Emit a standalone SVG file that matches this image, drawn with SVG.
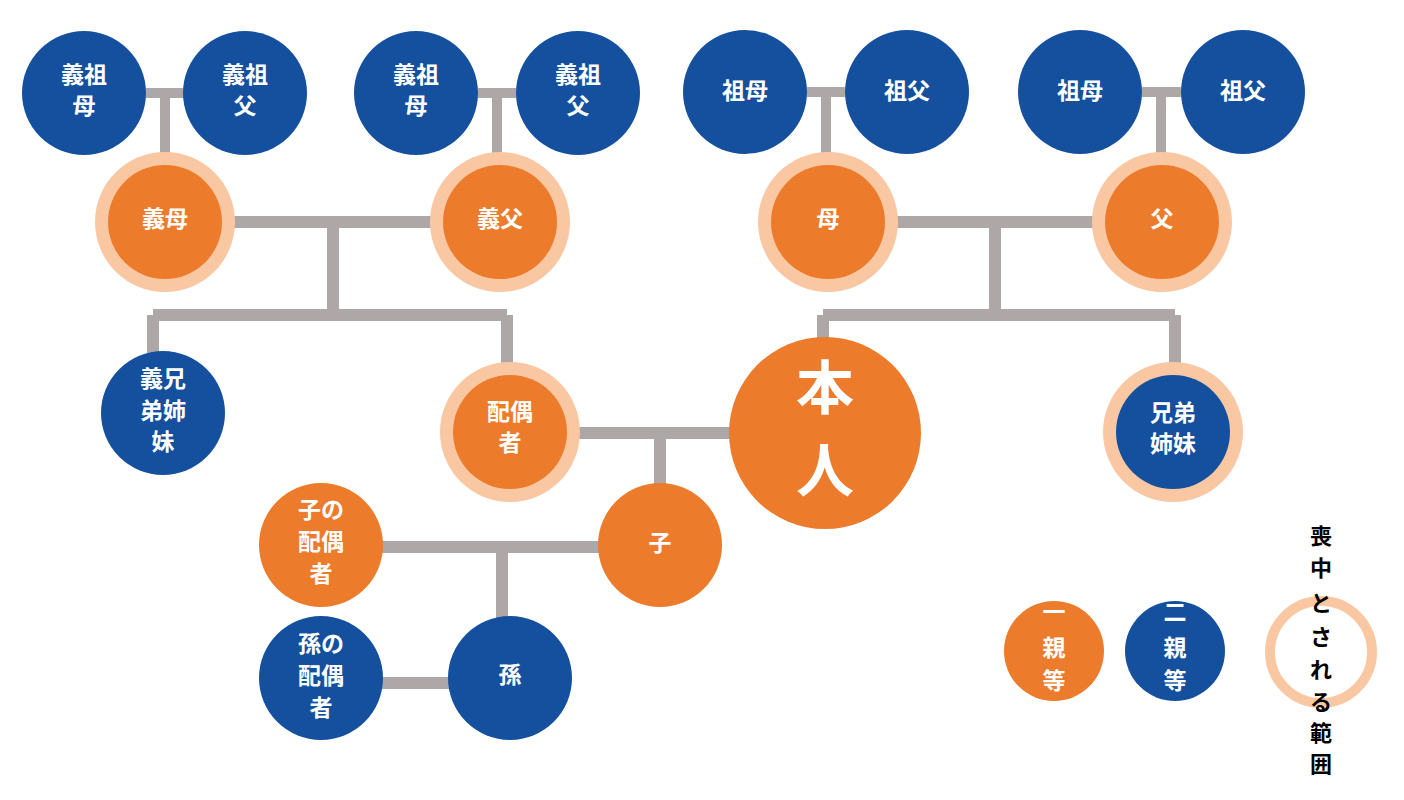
<svg xmlns="http://www.w3.org/2000/svg" width="1404" height="800" viewBox="0 0 1404 800">
<style>
.blue{fill:#14509E}
.orange{fill:#EC7B2C}
.peach{fill:#F9C8A3}
.t{font-family:"Noto Sans CJK JP","Noto Sans",sans-serif;font-weight:700;fill:#fff;font-size:23px;text-anchor:middle;dominant-baseline:central}
.big{font-size:58px}
.lt{font-family:"Noto Sans CJK JP","Noto Sans",sans-serif;font-weight:700;fill:#000;font-size:22px;text-anchor:middle;dominant-baseline:central}
.c{stroke:#ADA7A7;stroke-width:12;fill:none}
.cs{stroke:#ADA7A7;stroke-width:10;fill:none}
</style>
<rect width="1404" height="800" fill="#fff"/>
<g id="connectors">
<path class="cs" d="M146 93H184M165 93V160"/>
<path class="cs" d="M478 93H516M497 93V160"/>
<path class="cs" d="M807 92H845M826 92V160"/>
<path class="cs" d="M1142 92H1181M1161 92V160"/>
<path class="c" d="M230 222H435M333 222V315M153 315H507M153 315V355M507 315V368"/>
<path class="c" d="M893 222H1097M995 222V315M823 315H1175M823 315V345M1175 315V368"/>
<path class="c" d="M575 433H735M660 433V490"/>
<path class="c" d="M380 547H602M502 547V622"/>
<path class="c" d="M380 683H452"/>
</g>
<g id="n-ggm1"><circle class="blue" cx="84" cy="93" r="62"/><text class="t" x="84" y="73">義祖</text><text class="t" x="84" y="104">母</text></g>
<g id="n-ggf1"><circle class="blue" cx="245" cy="93" r="62"/><text class="t" x="245" y="73">義祖</text><text class="t" x="245" y="104">父</text></g>
<g id="n-ggm2"><circle class="blue" cx="416" cy="93" r="62"/><text class="t" x="416" y="73">義祖</text><text class="t" x="416" y="104">母</text></g>
<g id="n-ggf2"><circle class="blue" cx="578" cy="93" r="62"/><text class="t" x="578" y="73">義祖</text><text class="t" x="578" y="104">父</text></g>
<g id="n-gm1"><circle class="blue" cx="745" cy="92" r="62"/><text class="t" x="745" y="89">祖母</text></g>
<g id="n-gf1"><circle class="blue" cx="907" cy="92" r="62"/><text class="t" x="907" y="89">祖父</text></g>
<g id="n-gm2"><circle class="blue" cx="1080" cy="92" r="62"/><text class="t" x="1080" y="89">祖母</text></g>
<g id="n-gf2"><circle class="blue" cx="1243" cy="92" r="62"/><text class="t" x="1243" y="89">祖父</text></g>
<g id="n-imo"><circle class="peach" cx="165" cy="222" r="70"/><circle class="orange" cx="165" cy="222" r="57"/><text class="t" x="165" y="217">義母</text></g>
<g id="n-ifa"><circle class="peach" cx="500" cy="222" r="70"/><circle class="orange" cx="500" cy="222" r="57"/><text class="t" x="500" y="217">義父</text></g>
<g id="n-mo"><circle class="peach" cx="828" cy="222" r="70"/><circle class="orange" cx="828" cy="222" r="57"/><text class="t" x="828" y="217">母</text></g>
<g id="n-fa"><circle class="peach" cx="1162" cy="222" r="70"/><circle class="orange" cx="1162" cy="222" r="57"/><text class="t" x="1162" y="217">父</text></g>
<g id="n-isib"><circle class="blue" cx="163" cy="413" r="62"/><text class="t" x="163" y="377">義兄</text><text class="t" x="163" y="409">弟姉</text><text class="t" x="163" y="440">妹</text></g>
<g id="n-spouse"><circle class="peach" cx="510" cy="432" r="70"/><circle class="orange" cx="510" cy="432" r="57"/><text class="t" x="510" y="410">配偶</text><text class="t" x="510" y="441">者</text></g>
<g id="n-self"><circle class="orange" cx="825" cy="433" r="96"/><text class="t big" x="825" y="384">本</text><text class="t big" x="825" y="467">人</text></g>
<g id="n-sib"><circle class="peach" cx="1173" cy="432" r="70"/><circle class="blue" cx="1173" cy="432" r="57"/><text class="t" x="1173" y="411">兄弟</text><text class="t" x="1173" y="442">姉妹</text></g>
<g id="n-cspouse"><circle class="orange" cx="321" cy="545" r="62"/><text class="t" x="321" y="508">子の</text><text class="t" x="321" y="540">配偶</text><text class="t" x="321" y="572">者</text></g>
<g id="n-child"><circle class="orange" cx="660" cy="545" r="62"/><text class="t" x="660" y="541">子</text></g>
<g id="n-gcspouse"><circle class="blue" cx="321" cy="678" r="62"/><text class="t" x="321" y="642">孫の</text><text class="t" x="321" y="674">配偶</text><text class="t" x="321" y="706">者</text></g>
<g id="n-gchild"><circle class="blue" cx="510" cy="678" r="62"/><text class="t" x="510" y="673">孫</text></g>
<g id="legend">
<g id="l-1"><circle class="orange" cx="1054" cy="651" r="50"/><text class="t" x="1054" y="610">一</text><text class="t" x="1054" y="646">親</text><text class="t" x="1054" y="679">等</text></g>
<g id="l-2"><circle class="blue" cx="1175" cy="651" r="50"/><text class="t" x="1175" y="610">二</text><text class="t" x="1175" y="646">親</text><text class="t" x="1175" y="679">等</text></g>
<g id="l-3"><circle cx="1321" cy="652" r="51" fill="none" stroke="#F9C8A3" stroke-width="10"/>
<text class="lt"><tspan x="1321" y="534">喪</tspan><tspan x="1321" y="566">中</tspan><tspan x="1321" y="601">と</tspan><tspan x="1321" y="635">さ</tspan><tspan x="1321" y="668">れ</tspan><tspan x="1321" y="700">る</tspan><tspan x="1321" y="731">範</tspan><tspan x="1321" y="762">囲</tspan></text></g>
</g>
</svg>
